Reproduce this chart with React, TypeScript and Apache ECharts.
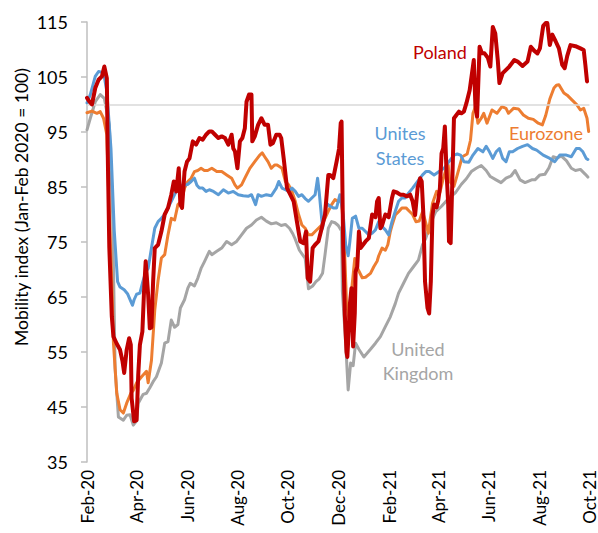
import React, { useEffect, useRef } from "react";
import * as echarts from "echarts";

// X positions are day numbers counted from 15 Feb 2020 (day 0, first day of the series).
const tickLabels = ["Feb-20", "Apr-20", "Jun-20", "Aug-20", "Oct-20", "Dec-20", "Feb-21", "Apr-21", "Jun-21", "Aug-21", "Oct-21"];
const tickDays = [0, 60, 121, 182, 243, 304, 366, 425, 486, 547, 608];
const yTicks = [35, 45, 55, 65, 75, 85, 95, 105, 115];

const ukDays = [0,4,10,16,21,27,31,34,38,44,48,52,56,60,62,68,72,76,80,84,90,94,98,102,106,110,113,118,122,125,130,134,138,142,148,151,157,163,169,175,181,187,193,199,205,211,217,223,229,235,240,245,249,252,257,264,268,273,277,281,285,288,292,296,300,304,308,309,313,316,319,322,325,329,335,343,349,355,361,367,373,377,383,389,395,401,406,410,416,422,429,438,446,453,459,465,471,477,483,488,495,501,507,513,518,524,530,538,542,548,554,559,564,569,574,580,586,591,597,603,606];
const ukValues = [95.4,97.5,100.5,101.8,101.1,96.3,80,52,43.2,42.6,43.5,43.6,41.7,42.5,45.7,47.3,47.5,48.5,49.6,50.5,53,56.6,56.9,60.8,59.5,60,63,64.5,66.6,67.5,67,68.4,70.2,71.4,73.3,72.7,73.3,73.9,75.1,74.5,75.1,76.3,77.5,78.1,79,79.5,78.8,78.3,78.5,78,78.2,77.5,76.5,75.5,73.5,72,66.5,67,67.8,68.3,69.3,72.7,77.5,78.7,78.5,78,77,66,56.6,48.1,53,52.5,56.6,55.5,54.1,55.5,56.6,57.8,59.6,61.4,63.8,65.7,67.5,69.3,70.5,71.7,74.5,75.7,78.5,80.5,81.5,83,84,85.5,86.5,87.8,88.4,88.9,88,86.9,86.3,85.8,86.6,87,88,86.3,85.8,86.3,86.3,87.2,87.3,88.5,90.5,90.3,90.6,89.8,88.4,88,88.2,87.3,86.8];

const usDays = [0,4,10,14,20,24,29,33,37,40,45,49,53,55,57,60,64,67,71,74,78,82,86,90,94,98,102,106,110,114,118,122,126,130,133,136,140,144,148,153,159,165,171,177,183,189,195,199,204,207,211,217,223,229,232,236,240,244,248,252,256,260,264,268,272,276,279,281,285,290,294,298,302,306,310,313,316,318,321,325,329,333,337,341,345,349,353,357,361,365,369,373,377,381,385,388,394,400,406,410,414,420,426,432,438,444,448,452,456,462,467,473,479,483,487,491,495,499,503,507,511,515,521,527,533,539,544,552,560,566,572,580,586,592,596,600,604,606];
const usValues = [100.3,101.8,105.1,106,105.8,102.4,92,77,67.8,66.8,66.3,65.6,64.2,63.5,64.5,65.5,65.7,67.5,69.5,70.2,73.9,77.5,78.7,79.3,80,81.2,82.4,83.6,84.8,85.3,85.3,85.5,86,86.6,85.3,84.8,84.8,84.2,84.5,84.2,83.6,84.5,83.9,84.2,83.6,83.4,83.3,83.6,81.8,83.6,83.3,83.6,83.4,84.8,86,84.8,84.5,84.2,84.8,84.2,83.3,83.6,82.9,82.4,83,83.6,86.6,84,77.5,82,81.5,81.2,81.2,83.6,80,74.5,72.5,75,79.3,79.7,77.5,77.5,76.9,76.3,76.6,77.2,78.7,77.8,77.2,76.3,78.7,80.6,82.4,83,83,83.7,84.8,86,87.2,87.8,87.8,87.2,87.8,88.4,89.6,90.8,91,90.8,89.6,89.5,90.8,92,91.4,92.4,91.4,90.2,91.4,92,90.2,89.6,91.4,91.4,92,92.4,92.7,92,91.7,90.8,90.2,89.6,90.8,90.8,90.5,92,92,91.4,90.2,90];

const ezDays = [0,6,12,16,20,24,27,30,32,36,40,44,48,53,56,60,66,72,74,78,82,86,90,94,98,102,106,110,114,118,122,126,130,134,138,142,146,151,157,163,169,175,179,182,187,191,197,203,209,212,215,219,223,227,230,236,240,244,248,252,256,260,264,268,272,276,280,284,288,292,296,300,304,308,311,314,317,320,324,328,333,337,343,347,351,353,357,361,364,367,369,373,377,381,386,390,394,398,402,406,409,413,418,423,427,431,434,437,439,444,448,454,460,464,467,470,473,477,480,484,490,496,502,507,510,516,522,528,534,540,546,551,555,560,565,568,571,577,581,587,593,597,601,605,607];
const ezValues = [98.5,98.8,98.4,98.7,97.5,94.5,80,68,56.6,47.5,44.5,43.9,45.7,47.5,48,49.4,50.5,51.5,49.4,53.5,62.6,68,72.1,72.7,76.3,79.3,79,81.8,82.4,84.8,86,86.6,87.8,88,88.4,88,88,88.4,87.8,87.8,87.2,86.6,85.4,84.8,85.4,86.6,88.4,89.6,90.8,91.2,90.5,89.6,88.4,89,89,88.4,86,85.4,84.2,82.4,80,78.1,77.5,76.3,76.3,76.9,77.5,78.1,79.3,80.6,81.8,82.7,82.4,82.5,76,64,61,66,72,70,68.5,68.6,69.3,70.5,71.5,72.5,73.9,73.5,74.5,76.9,78,79.9,80.5,81.2,81.2,80.6,80,78.7,78.8,80.5,79,76.6,82,84.2,84,86.5,88,89,86,85.1,87.2,90.5,91,93.5,98.4,99.6,96.6,97.5,98.4,96.6,99,98.4,99.6,99.3,98.4,99.3,99.2,98.1,97.5,97.3,96.6,96.3,98,101,103,103.5,103.6,102.1,101.7,100.8,99.9,99,99.3,97.5,95.1];

const plDays = [0,3,6,10,14,18,21,24,25,27,30,32,36,40,43,45,48,51,53,54,57,60,62,64,67,69,71,74,76,78,80,82,86,90,94,98,102,105,108,111,113,115,118,121,124,128,132,136,140,144,148,151,155,159,163,167,171,175,177,179,182,185,188,191,193,196,199,200,203,207,211,215,219,222,225,229,233,235,238,242,246,250,254,258,262,265,267,270,273,276,280,284,288,292,294,298,302,305,307,308,310,312,314,315,317,318,320,322,324,325,327,329,331,334,337,341,345,349,351,353,355,357,361,365,369,371,375,379,383,387,391,394,397,400,403,405,407,409,412,414,416,418,420,423,425,427,429,431,433,435,437,438,440,442,444,447,450,453,456,459,463,468,470,472,475,478,481,485,488,491,494,497,499,503,507,511,517,521,527,533,537,541,545,548,552,555,557,560,563,567,571,575,578,581,585,591,597,601,603,605];
const plValues = [101.2,100.5,100,103,104.5,105.1,106.9,104.8,92,74,61.5,57.8,56.5,55.4,53.3,51.2,55.4,57.5,56.3,46.6,42.4,42.6,50.9,56.3,58.7,66,71.5,65.4,59.3,59.5,67.8,73.9,74.5,76.9,80,81.2,83.6,86,84.2,88.4,81.8,81.2,87.8,89.6,90.2,93.3,92.7,93.9,93.6,94.5,95.1,95.1,94.5,93.9,94.2,93.9,92.7,94.5,92,91.5,88.4,93.3,93.9,95.7,100.5,101.8,101.8,93.3,94.2,96.3,97.5,96.3,96.3,92.7,93,94.5,94.5,93.9,90.2,84.8,83.6,82.4,78.7,75.1,74.8,76.9,68.4,67.8,73.9,74.5,75.1,77.5,80,87.2,87.2,86.6,89.6,92,96.6,96.9,73.9,61.7,55,54.1,59.9,63.6,66.6,56,62,69.6,70.5,76.9,73.9,74.5,75.1,75.7,80,79.5,82.4,83,77.5,78,80,79.5,83,84.2,84,83.6,83.6,83.3,83.6,82.4,79.9,84.8,86.6,86,80,67.8,63,62,67.8,79.9,81.8,81.3,82.6,84.8,91.1,92,96,87.8,82,75.1,74.8,86,97.5,98.1,98.7,98.4,98.7,100.2,102.6,108.1,99.6,97.8,110.5,109.3,109.3,108.5,106.9,114.1,112.9,108.1,103.9,105.7,106.3,106.9,108.1,107.8,107,107.8,110.5,109.8,109.3,110.2,114.3,114.8,114.8,110.8,112.7,111.5,110.2,107.2,106.6,108.8,110.8,110.6,110.2,109.9,107.2,104.2];

const seriesNames = ["United Kingdom", "Eurozone", "Unites States", "Poland"];
const colors = ["#A5A5A5", "#ED7D31", "#5B9BD5", "#C00000"];
const referenceLevel = 100;
const yTitle = "Mobility index (Jan-Feb 2020 = 100)";

function toPoints(days: number[], values: number[]) {
  const n = Math.min(days.length, values.length);
  const out: [number, number][] = [];
  for (let i = 0; i < n; i++) out.push([days[i], values[i]]);
  return out;
}

const FONT = "Lato, 'Noto Sans', sans-serif";

export default function App() {
  const ref = useRef<HTMLDivElement>(null);
  useEffect(() => {
    if (!ref.current) return;
    const chart = echarts.init(ref.current, null, { renderer: "svg" });
    const data = [
      toPoints(ukDays, ukValues),
      toPoints(ezDays, ezValues),
      toPoints(usDays, usValues),
      toPoints(plDays, plValues),
    ];
    const widths = [3, 3, 3, 4];
    const annotation = (text: string, x: number, y: number, color: string, size = 18, rotation = 0) => ({
      type: "text",
      x,
      y,
      rotation,
      silent: true,
      z: 100,
      style: {
        text,
        fill: color,
        fontSize: size,
        fontFamily: FONT,
        align: "center",
        verticalAlign: "middle",
        textAlign: "center",
        textVerticalAlign: "middle",
      },
    });
    chart.setOption({
      animation: false,
      grid: { left: 87, right: 8, top: 22, bottom: 71, containLabel: false },
      xAxis: {
        type: "value",
        min: 0,
        max: 608,
        axisLine: { show: false },
        axisTick: { show: false },
        splitLine: { show: false },
        axisLabel: {
          customValues: tickDays,
          rotate: 90,
          margin: 8,
          fontSize: 17,
          lineHeight: 13,
          color: "#000",
          fontFamily: FONT,
          hideOverlap: false,
          showMinLabel: true,
          showMaxLabel: true,
          formatter: (v: number) => {
            const i = tickDays.findIndex((t) => Math.abs(t - v) < 0.5);
            return i >= 0 ? tickLabels[i] : "";
          },
        },
      },
      yAxis: {
        type: "value",
        min: 35,
        max: 115,
        interval: 10,
        axisLine: { show: true, lineStyle: { color: "#BFBFBF", width: 1.5 } },
        axisTick: { show: true, length: 6, customValues: yTicks, lineStyle: { color: "#BFBFBF", width: 1.5 } },
        splitLine: { show: false },
        axisLabel: {
          customValues: yTicks,
          margin: 19,
          fontSize: 18,
          color: "#000",
          fontFamily: FONT,
          showMinLabel: true,
          showMaxLabel: true,
        },
      },
      series: seriesNames.map((name, i) => ({
        name,
        type: "line",
        data: data[i],
        showSymbol: false,
        symbol: "none",
        smooth: false,
        z: 2 + i,
        lineStyle: { color: colors[i], width: widths[i], join: "round", cap: "round" },
        itemStyle: { color: colors[i] },
        markLine:
          i === 0
            ? {
                silent: true,
                symbol: "none",
                label: { show: false },
                lineStyle: { color: "#D9D9D9", width: 1.5, type: "solid" },
                data: [{ yAxis: referenceLevel }],
              }
            : undefined,
      })),
      graphic: [
        annotation(yTitle, 21, 207, "#000", 17.5, Math.PI / 2),
        annotation("Poland", 440, 52, "#C00000"),
        annotation("Unites", 400, 133, "#5B9BD5"),
        annotation("States", 400, 158, "#5B9BD5"),
        annotation("Eurozone", 546, 133, "#ED7D31"),
        annotation("United", 418, 349, "#A5A5A5"),
        annotation("Kingdom", 418, 373, "#A5A5A5"),
      ],
    });
    return () => chart.dispose();
  }, []);
  return <div ref={ref} style={{ position: "absolute", left: 0, top: 0, width: 598, height: 533 }} />;
}
